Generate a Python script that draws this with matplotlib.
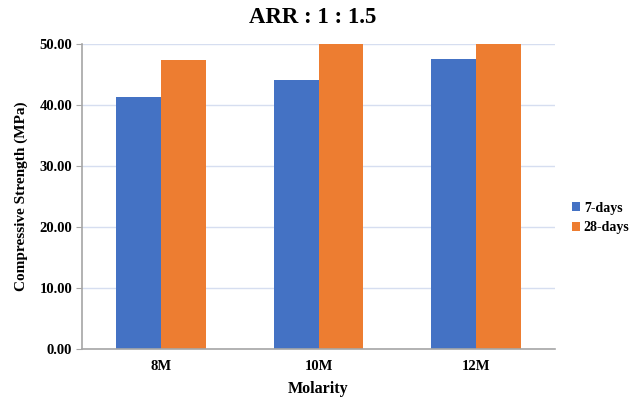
import matplotlib.pyplot as plt
import numpy as np

categories = ['8M', '10M', '12M']
days_7 = [41.3, 44.1, 47.5]
days_28 = [47.4, 51.5, 53.0]  # 10M and 12M run past the 50 limit in the source
yticks = [0, 10, 20, 30, 40, 50]

plt.rcParams['font.family'] = ['Liberation Serif', 'DejaVu Serif']
plt.rcParams['font.weight'] = 'bold'

fig = plt.figure(figsize=(6.32, 3.98), dpi=100)
ax = fig.add_axes([82 / 632, 1 - 349 / 398, (555 - 82) / 632, (349 - 44) / 398])

x = np.arange(len(categories))
w = 0.285
ax.bar(x - w / 2, days_7, w, color='#4472C4', label='7-days', zorder=2)
ax.bar(x + w / 2, days_28, w, color='#ED7D31', label='28-days', zorder=2)

ax.set_xlim(-0.5, 2.5)
ax.set_ylim(0, 50)
ax.set_yticks(yticks)
ax.set_yticklabels([f'{v:.2f}' for v in yticks], fontsize=10.5, fontweight='bold')
ax.set_xticks(x)
ax.set_xticklabels(categories, fontsize=10.5, fontweight='bold')
ax.tick_params(axis='x', length=0, pad=8)
ax.tick_params(axis='y', length=4, color='#A6A6A6', pad=3, direction='out')
ax.grid(axis='y', color='#D6DEF0', linewidth=1, zorder=0)

for s in ['top', 'right']:
    ax.spines[s].set_visible(False)
for s in ['left', 'bottom']:
    ax.spines[s].set_color('#A6A6A6')
    ax.spines[s].set_linewidth(1.2)

ax.set_xlabel('Molarity', fontsize=11.5, fontweight='bold', labelpad=6)
ax.set_ylabel('Compressive Strength (MPa)', fontsize=11, fontweight='bold', labelpad=8)
fig.text(0.495, 0.955, 'ARR : 1 : 1.5', ha='center', va='center', fontsize=16.5, fontweight='bold')

leg = fig.legend(loc='center left', bbox_to_anchor=(572 / 632, 1 - 218 / 398), frameon=False,
                 fontsize=10, handlelength=0.55, handleheight=0.55, handletextpad=0.3,
                 labelspacing=0.5, borderpad=0, borderaxespad=0)

fig.savefig('out.png', dpi=100)
